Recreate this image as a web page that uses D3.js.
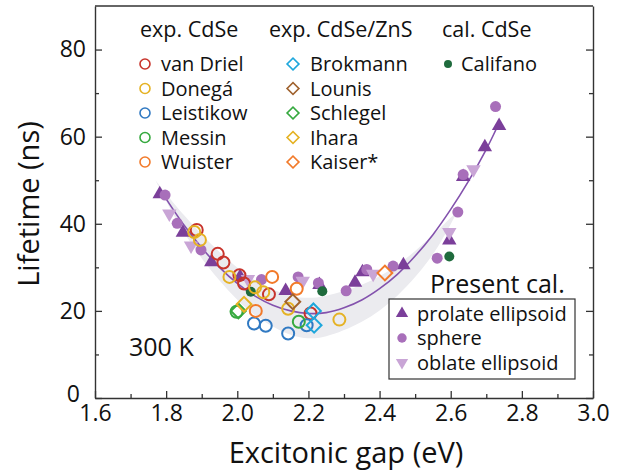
<!DOCTYPE html>
<html>
<head>
<meta charset="utf-8">
<script src="https://cdn.jsdelivr.net/npm/d3@7"></script>
<style>
  body { margin: 0; background: #fff; }
  svg text { font-family: "Open Sans", "Noto Sans", sans-serif; fill: #111; }
</style>
</head>
<body>
<svg id="chart" width="622" height="475"></svg>
<script>
// experimental CdSe (open circles)
const vanDriel = [[1.886, 38.6], [1.945, 33.1], [1.961, 31.1], [2.006, 28.2], [2.019, 26.3], [2.089, 23.8], [2.206, 19.4]];
const donega = [[1.879, 38.1], [1.895, 36.3], [1.978, 27.8], [2.05, 25.4], [2.073, 24.3], [2.143, 20.5], [2.287, 18.0]];
const leistikow = [[2.047, 17.1], [2.08, 16.6], [2.143, 14.8], [2.195, 16.7]];
const messin = [[1.998, 19.8], [2.173, 17.5]];
const wuister = [[2.098, 27.8], [2.052, 20.0], [2.167, 25.1]];

// experimental CdSe/ZnS (open diamonds)
const brokmann = [[2.214, 20.0], [2.216, 16.7]];
const lounis = [[2.156, 22.1]];
const schlegel = [[2.003, 20.0]];
const ihara = [[2.019, 21.5]];
const kaiser = [[2.415, 28.7]];

// calculated CdSe
const califano = [[2.038, 24.4], [2.239, 24.5], [2.596, 32.5]];

// present calculation
const prolate = [[1.782, 46.8], [1.847, 38.0], [1.927, 31.2], [2.008, 27.8], [2.136, 24.6], [2.231, 26.0],
  [2.331, 26.5], [2.352, 28.9], [2.467, 30.5], [2.596, 36.2], [2.635, 50.8], [2.696, 57.6], [2.736, 62.5]];
const sphere = [[1.797, 46.6], [1.831, 40.1], [1.898, 34.0], [2.068, 27.2], [2.171, 27.8], [2.228, 26.4],
  [2.306, 24.6], [2.364, 29.5], [2.438, 30.3], [2.562, 32.1], [2.62, 42.7], [2.635, 51.3], [2.726, 66.9]];
const oblate = [[1.809, 42.3], [1.87, 35.0], [2.03, 27.3], [2.184, 26.9], [2.382, 28.5], [2.596, 38.1], [2.664, 52.5]];

// fitted curve and shaded band
const fitX = [1.788, 1.85, 1.9, 1.95, 2.0, 2.05, 2.1, 2.15, 2.2, 2.25, 2.3, 2.35, 2.4, 2.45, 2.5, 2.55, 2.6, 2.65, 2.7, 2.73];
const fitY = [47.2, 39.7, 34.5, 30.0, 26.3, 23.4, 21.3, 20.0, 19.4, 19.6, 20.7, 22.5, 25.1, 28.4, 32.6, 37.5, 43.3, 49.8, 57.1, 62.1];
const bandX = [1.77, 1.85, 1.95, 2.05, 2.15, 2.2, 2.25, 2.35, 2.45, 2.55, 2.62];
const bandLow = [50.0, 38.0, 27.0, 19.0, 14.5, 13.7, 14.2, 17.5, 23.5, 33.0, 43.0];
const bandHigh = [50.0, 42.0, 33.5, 27.0, 23.5, 23.0, 23.5, 26.0, 30.5, 37.5, 43.0];

const xTicks = [1.6, 1.8, 2.0, 2.2, 2.4, 2.6, 2.8, 3.0];
const yTicks = [0, 20, 40, 60, 80];

const expCdSe = [
  { name: 'van Driel', color: '#c8342c', data: vanDriel },
  { name: 'Donegá', color: '#e5b224', data: donega },
  { name: 'Leistikow', color: '#3079c2', data: leistikow },
  { name: 'Messin', color: '#36a93f', data: messin },
  { name: 'Wuister', color: '#f27a2a', data: wuister }
];
const expShell = [
  { name: 'Brokmann', color: '#1fa7dc', data: brokmann },
  { name: 'Lounis', color: '#a0622e', data: lounis },
  { name: 'Schlegel', color: '#36a93f', data: schlegel },
  { name: 'Ihara', color: '#e5b224', data: ihara },
  { name: 'Kaiser*', color: '#f27a2a', data: kaiser }
];
const present = [
  { name: 'prolate ellipsoid', color: '#7b3f9a', shape: d3.symbolTriangle, data: prolate, rot: 0 },
  { name: 'sphere', color: '#a86fba', shape: d3.symbolCircle, data: sphere, rot: 0 },
  { name: 'oblate ellipsoid', color: '#c9a5d6', shape: d3.symbolTriangle, data: oblate, rot: 180 }
];

const svg = d3.select('#chart');
const m = { left: 95, right: 593, top: 6, bottom: 398 };

const x = d3.scaleLinear().domain([1.6, 3.0]).range([m.left, m.right]);
const y = d3.scaleLinear().domain([0, 90]).range([m.bottom, m.top]);

// band
const area = d3.area()
  .x((d, i) => x(bandX[i]))
  .y0((d, i) => y(bandLow[i]))
  .y1((d, i) => y(bandHigh[i]))
  .curve(d3.curveCatmullRom);
svg.append('path')
  .attr('d', area(bandX))
  .attr('fill', '#ebebef');

// fit line
const line = d3.line()
  .x((d, i) => x(fitX[i]))
  .y((d, i) => y(fitY[i]))
  .curve(d3.curveCatmullRom);
svg.append('path')
  .attr('d', line(fitX))
  .attr('fill', 'none')
  .attr('stroke', '#8352ad')
  .attr('stroke-width', 1.6);

// axes
const axisColor = '#333';
const xAxis = svg.append('g').attr('transform', `translate(0,${m.bottom})`)
  .call(d3.axisBottom(x).tickValues(d3.range(16, 31).map((v) => v / 10)).tickSize(0).tickFormat(''));
xAxis.selectAll('.tick line')
  .attr('y2', (d) => xTicks.some((t) => Math.abs(t - d) < 1e-6) ? -7 : -4);
const xMajor = svg.append('g').attr('transform', `translate(0,${m.bottom})`)
  .call(d3.axisBottom(x).tickValues(xTicks).tickSize(0).tickPadding(5).tickFormat(d3.format('.1f')));
xMajor.select('.domain').remove();
xMajor.selectAll('text').attr('font-size', 23).attr('dy', '0.8em');

const yMinor = d3.range(0, 90, 10);
const yAxis = svg.append('g').attr('transform', `translate(${m.left},0)`)
  .call(d3.axisLeft(y).tickValues(yMinor).tickSize(0).tickFormat(''));
yAxis.selectAll('.tick line')
  .attr('x2', (d) => yTicks.includes(d) ? 7 : 4);
const yMajor = svg.append('g').attr('transform', `translate(${m.left},0)`)
  .call(d3.axisLeft(y).tickValues(yTicks).tickSize(0).tickPadding(9));
yMajor.select('.domain').remove();
yMajor.selectAll('text').attr('font-size', 23);
yMajor.selectAll('.tick').filter((d) => d === 0).select('text')
  .attr('dy', '0.15em').attr('dx', -6);

const yRight = svg.append('g').attr('transform', `translate(${m.right},0)`)
  .call(d3.axisRight(y).tickValues(yMinor).tickSize(0).tickFormat(''));
yRight.selectAll('.tick line')
  .attr('x2', (d) => yTicks.includes(d) ? -7 : -4);

svg.append('line').attr('class', 'frame')
  .attr('x1', m.left).attr('x2', m.right).attr('y1', m.top).attr('y2', m.top);
svg.selectAll('.domain, .tick line, .frame')
  .attr('stroke', axisColor).attr('stroke-width', 1.3);
svg.selectAll('.domain').attr('stroke-width', 1.4);

svg.append('text')
  .attr('x', (m.left + m.right) / 2 + 2).attr('y', 463)
  .attr('text-anchor', 'middle').attr('font-size', 29)
  .text('Excitonic gap (eV)');
svg.append('text')
  .attr('transform', `translate(39,${(m.top + m.bottom) / 2 + 2}) rotate(-90)`)
  .attr('text-anchor', 'middle').attr('font-size', 29)
  .text('Lifetime (ns)');

// experimental markers
function drawCircles(series) {
  series.forEach((s) => {
    svg.append('g').selectAll('circle')
      .data(s.data).enter().append('circle')
      .attr('cx', (d) => x(d[0])).attr('cy', (d) => y(d[1]))
      .attr('r', 6).attr('fill', 'none')
      .attr('stroke', s.color).attr('stroke-width', 2);
  });
}
function drawDiamonds(series) {
  series.forEach((s) => {
    svg.append('g').selectAll('path')
      .data(s.data).enter().append('path')
      .attr('d', d3.symbol(d3.symbolSquare, 110)())
      .attr('transform', (d) => `translate(${x(d[0])},${y(d[1])}) rotate(45)`)
      .attr('fill', 'none')
      .attr('stroke', s.color).attr('stroke-width', 2);
  });
}

// present calculation first, so experiments overlay them
present.forEach((s) => {
  svg.append('g').selectAll('path')
    .data(s.data).enter().append('path')
    .attr('d', d3.symbol(s.shape, s.shape === d3.symbolCircle ? 95 : 90)())
    .attr('transform', (d) => `translate(${x(d[0])},${y(d[1])}) rotate(${s.rot})`)
    .attr('fill', s.color);
});
svg.append('g').selectAll('circle')
  .data(califano).enter().append('circle')
  .attr('cx', (d) => x(d[0])).attr('cy', (d) => y(d[1]))
  .attr('r', 5).attr('fill', '#1f6b3d');

drawCircles(expCdSe);
drawDiamonds(expShell);

// legends
const rowY = [64, 88.5, 113, 137.5, 162];
const headFont = 21.5, itemFont = 20;
svg.append('text').attr('x', 140).attr('y', 37).attr('font-size', headFont).text('exp. CdSe');
svg.append('text').attr('x', 269).attr('y', 37).attr('font-size', headFont).text('exp. CdSe/ZnS');
svg.append('text').attr('x', 442).attr('y', 37).attr('font-size', headFont).text('cal. CdSe');

expCdSe.forEach((s, i) => {
  svg.append('circle').attr('cx', 145).attr('cy', rowY[i]).attr('r', 5)
    .attr('fill', 'none').attr('stroke', s.color).attr('stroke-width', 1.6);
  svg.append('text').attr('x', 161).attr('y', rowY[i]).attr('dy', '0.35em')
    .attr('font-size', itemFont).text(s.name);
});
expShell.forEach((s, i) => {
  svg.append('path').attr('d', d3.symbol(d3.symbolSquare, 70)())
    .attr('transform', `translate(293,${rowY[i]}) rotate(45)`)
    .attr('fill', 'none').attr('stroke', s.color).attr('stroke-width', 1.6);
  svg.append('text').attr('x', 310).attr('y', rowY[i]).attr('dy', '0.35em')
    .attr('font-size', itemFont).text(s.name);
});
svg.append('circle').attr('cx', 448).attr('cy', rowY[0]).attr('r', 4).attr('fill', '#1f6b3d');
svg.append('text').attr('x', 461).attr('y', rowY[0]).attr('dy', '0.35em')
  .attr('font-size', itemFont).text('Califano');

svg.append('text').attr('x', 129).attr('y', 356).attr('font-size', 25).text('300 K');

svg.append('text').attr('x', 430).attr('y', 293).attr('font-size', 25).text('Present cal.');
svg.append('rect').attr('x', 389).attr('y', 299).attr('width', 186).attr('height', 80)
  .attr('fill', '#fff').attr('stroke', '#333').attr('stroke-width', 1.2);
const presRowY = [313.5, 338, 362.5];
present.forEach((s, i) => {
  svg.append('path')
    .attr('d', d3.symbol(s.shape, s.shape === d3.symbolCircle ? 70 : 65)())
    .attr('transform', `translate(402,${presRowY[i]}) rotate(${s.rot})`)
    .attr('fill', s.color);
  svg.append('text').attr('x', 417).attr('y', presRowY[i]).attr('dy', '0.35em')
    .attr('font-size', itemFont).text(s.name);
});
</script>
</body>
</html>
